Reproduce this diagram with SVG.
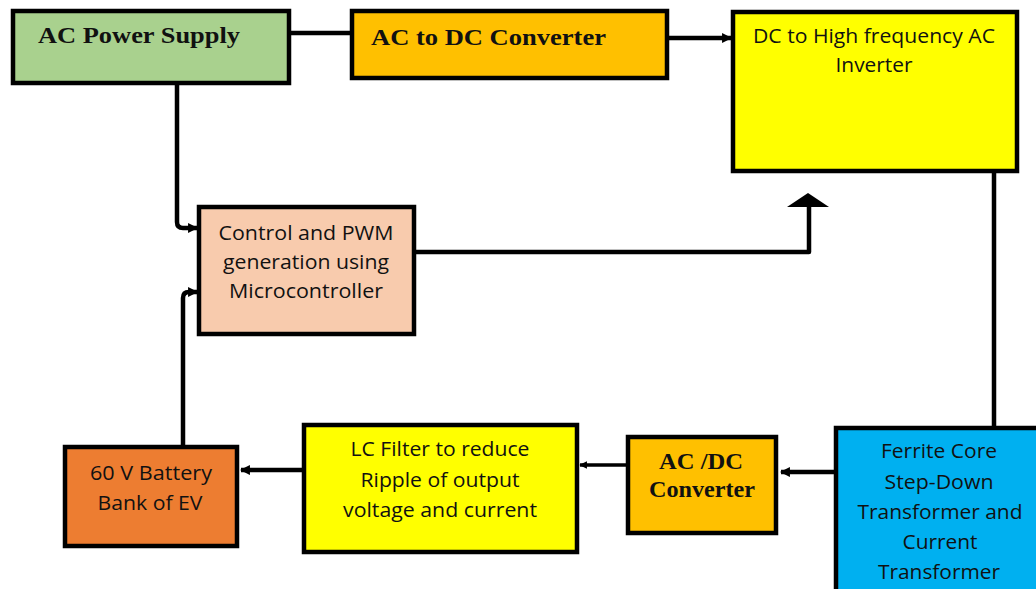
<svg xmlns="http://www.w3.org/2000/svg" width="1036" height="589" viewBox="0 0 1036 589">
<defs>
<style>
.box{stroke:#000;stroke-width:4.5}
.serif{font-family:"Liberation Serif","Times New Roman",serif;font-weight:bold;font-size:23px;fill:#111}
.sans{font-family:"Open Sans","Noto Sans",sans-serif;font-size:20.5px;fill:#111;text-anchor:middle}
.wire{fill:none;stroke:#000;stroke-width:4.5;stroke-linejoin:round}
</style>
<marker id="ah" viewBox="0 0 10 10" refX="9" refY="5" markerWidth="2.2" markerHeight="2.4" orient="auto" markerUnits="strokeWidth">
<path d="M0,0 L10,5 L0,10 z" fill="#000"/>
</marker>
</defs>
<rect width="1036" height="589" fill="#fff"/>
<g id="connectors">
<path class="wire" d="M289,33 H352"/>
<path class="wire" d="M667,38 H731" marker-end="url(#ah)"/>
<path class="wire" d="M177,83 V222 Q177,228 183,228 H197" marker-end="url(#ah)"/>
<path class="wire" d="M183,446 V298 Q183,292 189,292 H197" marker-end="url(#ah)"/>
<path class="wire" d="M414,252 H809 V205"/>
<path d="M787,207 L808,193 L829,207 z" fill="#000"/>
<path class="wire" d="M994,171 V428"/>
<path class="wire" d="M836,472 H781" marker-end="url(#ah)"/>
<path class="wire" style="stroke-width:3.5" d="M628,465 H580" marker-end="url(#ah)"/>
<path class="wire" d="M304,470 H241" marker-end="url(#ah)"/>
</g>
<g id="ac-power-supply">
<rect class="box" x="13" y="11" width="276" height="72" fill="#a9d18e"/>
<text class="serif" x="38" y="43" textLength="202" lengthAdjust="spacingAndGlyphs">AC Power Supply</text>
</g>
<g id="ac-dc-converter-top">
<rect class="box" x="352" y="11" width="315" height="67" fill="#ffc000"/>
<text class="serif" x="371" y="45" textLength="235" lengthAdjust="spacingAndGlyphs">AC to DC Converter</text>
</g>
<g id="inverter">
<rect class="box" x="733" y="12" width="284" height="159" fill="#ffff00"/>
<text class="sans" x="874" y="43" textLength="242" lengthAdjust="spacingAndGlyphs">DC to High frequency AC</text>
<text class="sans" x="874" y="72" textLength="77" lengthAdjust="spacingAndGlyphs">Inverter</text>
</g>
<g id="control">
<rect class="box" x="199" y="207" width="215" height="127" fill="#f8cbad"/>
<text class="sans" x="306" y="240" textLength="175" lengthAdjust="spacingAndGlyphs">Control and PWM</text>
<text class="sans" x="306" y="269" textLength="166" lengthAdjust="spacingAndGlyphs">generation using</text>
<text class="sans" x="306" y="298" textLength="154" lengthAdjust="spacingAndGlyphs">Microcontroller</text>
</g>
<g id="battery">
<rect class="box" x="65" y="447" width="172" height="99" fill="#ed7d31"/>
<text class="sans" x="151" y="480" textLength="122" lengthAdjust="spacingAndGlyphs">60 V Battery</text>
<text class="sans" x="150" y="510" textLength="105" lengthAdjust="spacingAndGlyphs">Bank of EV</text>
</g>
<g id="lc-filter">
<rect class="box" x="304" y="425" width="273" height="127" fill="#ffff00"/>
<text class="sans" x="440" y="456" textLength="179" lengthAdjust="spacingAndGlyphs">LC Filter to reduce</text>
<text class="sans" x="440" y="487" textLength="159" lengthAdjust="spacingAndGlyphs">Ripple of output</text>
<text class="sans" x="440" y="517" textLength="194" lengthAdjust="spacingAndGlyphs">voltage and current</text>
</g>
<g id="ac-dc-converter-bottom">
<rect class="box" x="628" y="437" width="148" height="96" fill="#ffc000"/>
<text class="serif" x="701" y="469" text-anchor="middle" textLength="84" lengthAdjust="spacingAndGlyphs">AC /DC</text>
<text class="serif" x="702" y="497" text-anchor="middle" textLength="106" lengthAdjust="spacingAndGlyphs">Converter</text>
</g>
<g id="ferrite">
<rect class="box" x="836" y="428" width="210" height="170" fill="#00b0f0"/>
<text class="sans" x="939" y="458" textLength="116" lengthAdjust="spacingAndGlyphs">Ferrite Core</text>
<text class="sans" x="939" y="489" textLength="109" lengthAdjust="spacingAndGlyphs">Step-Down</text>
<text class="sans" x="940" y="519" textLength="165" lengthAdjust="spacingAndGlyphs">Transformer and</text>
<text class="sans" x="940" y="549" textLength="75" lengthAdjust="spacingAndGlyphs">Current</text>
<text class="sans" x="939" y="579" textLength="122" lengthAdjust="spacingAndGlyphs">Transformer</text>
</g>
</svg>
